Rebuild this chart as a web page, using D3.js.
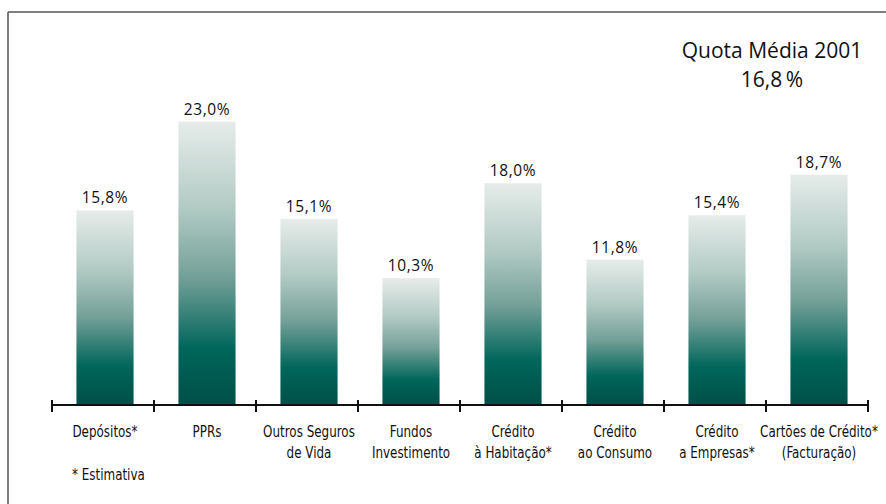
<!DOCTYPE html>
<html>
<head>
<meta charset="utf-8">
<script src="https://cdn.jsdelivr.net/npm/d3@7"></script>
<style>
  html, body { margin: 0; padding: 0; background: #fff; }
  svg { display: block; }
</style>
</head>
<body>
<svg id="chart" width="886" height="504"></svg>
<script>
// Market share by product line (%)
const categories = [
  ["Depósitos*"],
  ["PPRs"],
  ["Outros Seguros", "de Vida"],
  ["Fundos", "Investimento"],
  ["Crédito", "à Habitação*"],
  ["Crédito", "ao Consumo"],
  ["Crédito", "a Empresas*"],
  ["Cartões de Crédito*", "(Facturação)"]
];
const values = [15.8, 23.0, 15.1, 10.3, 18.0, 11.8, 15.4, 18.7];
const valueLabels = ["15,8%", "23,0%", "15,1%", "10,3%", "18,0%", "11,8%", "15,4%", "18,7%"];
const titleLines = ["Quota Média 2001", "16,8\u2009%"];
const footnote = "* Estimativa";

const svg = d3.select("#chart");
const textColor = "#111";
const labelFont = "'DejaVu Sans Condensed', 'Liberation Sans Narrow', 'Open Sans', sans-serif";
const valueFont = "'Open Sans', 'Noto Sans', sans-serif";
const squeeze = 0.885; // horizontal compression for the category captions

// frame: top and left rules
svg.append("line").attr("x1", 8).attr("x2", 886).attr("y1", 12).attr("y2", 12)
  .attr("stroke", "#555").attr("stroke-width", 1.5);
svg.append("line").attr("x1", 8).attr("x2", 8).attr("y1", 12).attr("y2", 504)
  .attr("stroke", "#555").attr("stroke-width", 1.5);

// vertical fade used by every bar
const defs = svg.append("defs");
const grad = defs.append("linearGradient").attr("id", "barFade")
  .attr("x1", 0).attr("x2", 0).attr("y1", 0).attr("y2", 1);
[[0, "#e6ecea"], [0.3, "#b3cbc5"], [0.55, "#73a098"], [0.8, "#00665b"], [1, "#004f47"]]
  .forEach(([o, c]) => grad.append("stop").attr("offset", o).attr("stop-color", c));

const x = d3.scaleBand().domain(d3.range(categories.length)).range([54, 870]).paddingInner(0.44).paddingOuter(0.22);
const y = d3.scaleLinear().domain([0, 25]).range([405, 97]);

svg.append("g").selectAll("rect").data(values).join("rect")
  .attr("x", (d, i) => x(i))
  .attr("width", x.bandwidth())
  .attr("y", d => y(d))
  .attr("height", d => y(0) - y(d))
  .attr("fill", "url(#barFade)");

svg.append("g").selectAll("text").data(values).join("text")
  .attr("x", (d, i) => x(i) + x.bandwidth() / 2)
  .attr("y", d => y(d) - 7)
  .attr("text-anchor", "middle")
  .attr("font-family", valueFont)
  .attr("font-size", 15.5)
  .attr("letter-spacing", 0.6)
  .attr("fill", textColor)
  .text((d, i) => valueLabels[i]);

// category axis with ticks at band boundaries
const edges = d3.range(categories.length + 1).map(i => 52 + i * 102);
const axis = svg.append("g");
axis.append("line").attr("x1", 52).attr("x2", 868).attr("y1", y(0)).attr("y2", y(0))
  .attr("stroke", "#111").attr("stroke-width", 2);
axis.selectAll("line.tick").data(edges).join("line").attr("class", "tick")
  .attr("x1", d => d).attr("x2", d => d)
  .attr("y1", y(0) - 5).attr("y2", y(0) + 7)
  .attr("stroke", "#111").attr("stroke-width", 2);

const captions = svg.append("g").attr("transform", `scale(${squeeze},1)`);
const cat = captions.selectAll("text").data(categories).join("text")
  .attr("x", (d, i) => (x(i) + x.bandwidth() / 2) / squeeze)
  .attr("y", 437)
  .attr("text-anchor", "middle")
  .attr("font-family", labelFont)
  .attr("font-size", 15)
  .attr("fill", textColor);
cat.selectAll("tspan").data(d => d).join("tspan")
  .attr("x", function () { return d3.select(this.parentNode).attr("x"); })
  .attr("dy", (d, i) => i === 0 ? 0 : 21)
  .text(d => d);

captions.append("text").attr("x", 72 / squeeze).attr("y", 480)
  .attr("font-family", labelFont).attr("font-size", 15).attr("fill", textColor)
  .text(footnote);

// average share annotation
svg.append("g").selectAll("text").data(titleLines).join("text")
  .attr("x", 772)
  .attr("y", (d, i) => 58 + i * 29)
  .attr("text-anchor", "middle")
  .attr("font-family", valueFont)
  .attr("font-size", 21)
  .attr("fill", textColor)
  .text(d => d);
</script>
</body>
</html>
